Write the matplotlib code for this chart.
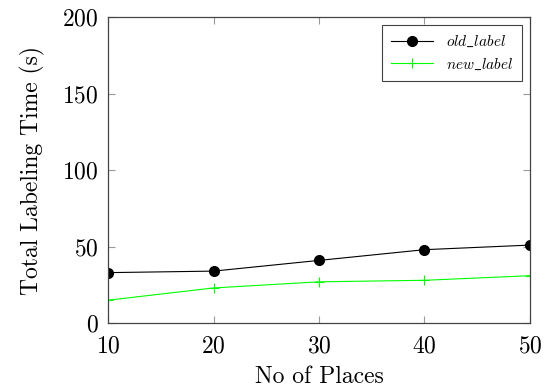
import matplotlib
matplotlib.use('Agg')
import matplotlib.pyplot as plt

plt.rcParams['font.family'] = 'cmr10'
plt.rcParams['mathtext.fontset'] = 'cm'
plt.rcParams['axes.formatter.use_mathtext'] = True

places = [10, 20, 30, 40, 50]
old_label = [33, 34, 41, 48, 51]
new_label = [15, 23, 27, 28, 31]

fig = plt.figure(figsize=(5.52, 3.87), dpi=100)
ax = fig.add_axes([0.196, 0.165, 0.764, 0.791])

ax.plot(places, old_label, color='black', lw=0.8, marker='o', markersize=7, label=r'$old\_label$')
ax.plot(places, new_label, color='#00ff00', lw=0.8, marker='+', markersize=7, markeredgewidth=0.8, label=r'$new\_label$')

ax.set_xlim(10, 50)
ax.set_ylim(0, 200)
ax.set_xticks(places)
ax.set_yticks([0, 50, 100, 150, 200])
ax.tick_params(direction='in', top=True, right=True, color='#999999', length=5, labelsize=17)
ax.tick_params(axis='x', pad=9)
ax.tick_params(axis='y', pad=7)
for s in ax.spines.values():
    s.set_color('#444444')
    s.set_linewidth(0.9)

ax.set_xlabel('No of Places', fontsize=17, labelpad=6)
ax.set_ylabel('Total Labeling Time (s)', fontsize=17, labelpad=12)

leg = ax.legend(loc='upper right', fontsize=11, fancybox=False, framealpha=1, edgecolor='#444444',
                handlelength=2.8, borderaxespad=0.5, borderpad=0.6)
leg.get_frame().set_linewidth(0.8)

fig.savefig('out.png', dpi=100)
